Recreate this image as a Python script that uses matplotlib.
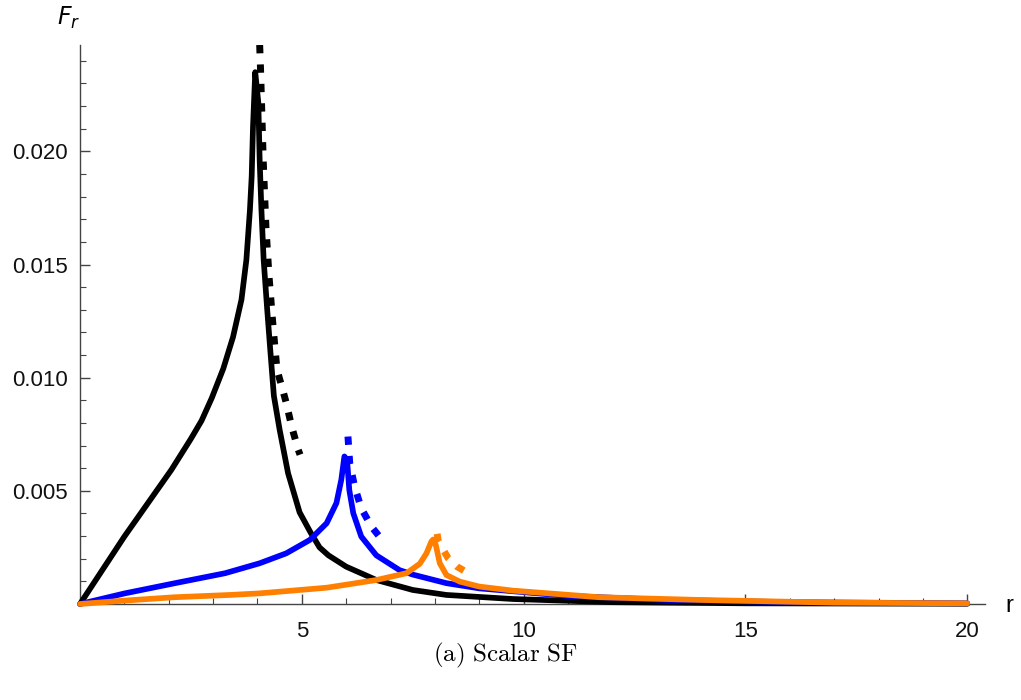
import matplotlib
matplotlib.use("Agg")
import matplotlib.pyplot as plt
from matplotlib.ticker import MultipleLocator, FixedLocator

# ---- data (F_r in units of 1e-3) ----
black_x = [0, 1.0, 2.06, 2.5, 2.74, 2.97, 3.23, 3.45, 3.64, 3.75, 3.83, 3.87, 3.90, 3.95,
           4.02, 4.05, 4.09, 4.14, 4.22, 4.29, 4.37, 4.5, 4.69, 4.95, 5.2, 5.4, 5.6, 6.0,
           6.68, 7.5, 8.26, 9.76, 12, 15, 20]
black_y = [0, 2.98, 5.93, 7.3, 8.1, 9.1, 10.4, 11.8, 13.45, 15.2, 17.4, 18.9, 21.1, 23.5,
           22.15, 19.6, 17.4, 15.2, 13.0, 11.2, 9.2, 7.7, 5.78, 4.05, 3.15, 2.5, 2.15, 1.65,
           1.06, 0.62, 0.4, 0.22, 0.08, 0.03, 0.01]
black_dot_x = [4.05, 4.07, 4.13, 4.19, 4.26, 4.35, 4.44, 4.55, 4.65, 4.77, 4.92, 4.96]
black_dot_y = [24.7, 23.6, 19.6, 16.7, 14.5, 12.3, 10.35, 9.6, 8.88, 7.85, 6.81, 6.6]

blue_x = [0, 1.01, 2.14, 3.27, 4.05, 4.65, 5.18, 5.56, 5.78, 5.89, 5.96, 6.02, 6.07, 6.16,
          6.34, 6.68, 7.2, 7.5, 8.26, 9.0, 9.9, 10.96, 13.2, 16, 20]
blue_y = [0, 0.47, 0.92, 1.36, 1.8, 2.24, 2.83, 3.57, 4.46, 5.49, 6.52, 6.37, 5.04, 4.01,
          2.98, 2.15, 1.5, 1.3, 0.92, 0.69, 0.54, 0.36, 0.18, 0.08, 0.03]
blue_dash_x = [6.04, 6.08, 6.19, 6.34, 6.57, 6.87]
blue_dash_y = [7.4, 6.22, 5.19, 4.23, 3.42, 2.68]

orange_x = [0, 1, 2.14, 3.38, 4.05, 5.56, 6.68, 7.36, 7.66, 7.81, 7.92, 7.96, 8.02, 8.11,
            8.26, 8.56, 9.0, 9.76, 11.7, 13.96, 17, 20]
orange_y = [0, 0.15, 0.3, 0.4, 0.47, 0.72, 1.06, 1.36, 1.78, 2.24, 2.76, 2.85, 2.61, 1.8,
            1.28, 0.99, 0.77, 0.59, 0.3, 0.18, 0.06, 0.03]
orange_dash_x = [8.05, 8.08, 8.3, 8.5, 8.72]
orange_dash_y = [3.1, 2.75, 2.02, 1.65, 1.4]

x_ticks = [5, 10, 15, 20]
y_ticks = [0.005, 0.010, 0.015, 0.020]
y_tick_labels = ["0.005", "0.010", "0.015", "0.020"]

BLACK = "#000000"
BLUE = "#0000FF"
ORANGE = "#FF8000"

def s(v):
    return [a * 1e-3 for a in v]

fig = plt.figure(figsize=(10.21, 7.0), dpi=100)
ax = fig.add_axes([80 / 1021, 1 - 604 / 700, (985 - 80) / 1021, (604 - 45) / 700])

lw = 4.1
kw = dict(lw=lw, solid_joinstyle="round", solid_capstyle="round", clip_on=False)
ax.plot(black_x, s(black_y), color=BLACK, zorder=3, **kw)
ax.plot(blue_x, s(blue_y), color=BLUE, zorder=4, **kw)
ax.plot(orange_x, s(orange_y), color=ORANGE, zorder=5, **kw)
dls = (0, (1.2, 1.6))
dkw = dict(lw=5.0, linestyle=dls, dash_capstyle="butt", zorder=6)
ax.plot(black_dot_x, s(black_dot_y), color=BLACK, **dkw)
ax.plot(blue_dash_x, s(blue_dash_y), color=BLUE, **dkw)
ax.plot(orange_dash_x, s(orange_dash_y), color=ORANGE, **dkw)

ax.set_xlim(0, 20.4)
ax.set_ylim(0, 0.0247)

for sp in ["top", "right"]:
    ax.spines[sp].set_visible(False)
for sp in ["left", "bottom"]:
    ax.spines[sp].set_color("#444444")
    ax.spines[sp].set_linewidth(1.0)

ax.xaxis.set_major_locator(FixedLocator(x_ticks))
ax.xaxis.set_minor_locator(MultipleLocator(1))
ax.yaxis.set_major_locator(FixedLocator(y_ticks))
ax.yaxis.set_minor_locator(MultipleLocator(0.001))
ax.set_yticklabels(y_tick_labels)
ax.set_xticklabels([str(t) for t in x_ticks])

ax.tick_params(which="major", direction="in", length=7, width=1.0, color="#444444",
               labelsize=16, labelcolor="#111111", pad=9)
ax.tick_params(which="minor", direction="in", length=4.5, width=0.8, color="#444444")
for lab in ax.get_xticklabels() + ax.get_yticklabels():
    lab.set_fontfamily("Liberation Sans")
ax.tick_params(axis="x", which="major", pad=12)

fig.text(80 / 1021, 1 - 18 / 700, r"$F_r$", fontsize=17, ha="right", va="center",
         math_fontfamily="dejavusans")
fig.text(1009 / 1021, 1 - 606 / 700, "r", fontsize=17, ha="center", va="center",
         fontfamily="Liberation Sans")
fig.text(505 / 1021, 1 - 655 / 700, r"$\mathrm{(a)\ Scalar\ SF}$", fontsize=18,
         ha="center", va="center", math_fontfamily="cm")

fig.savefig("out.png", dpi=100)
